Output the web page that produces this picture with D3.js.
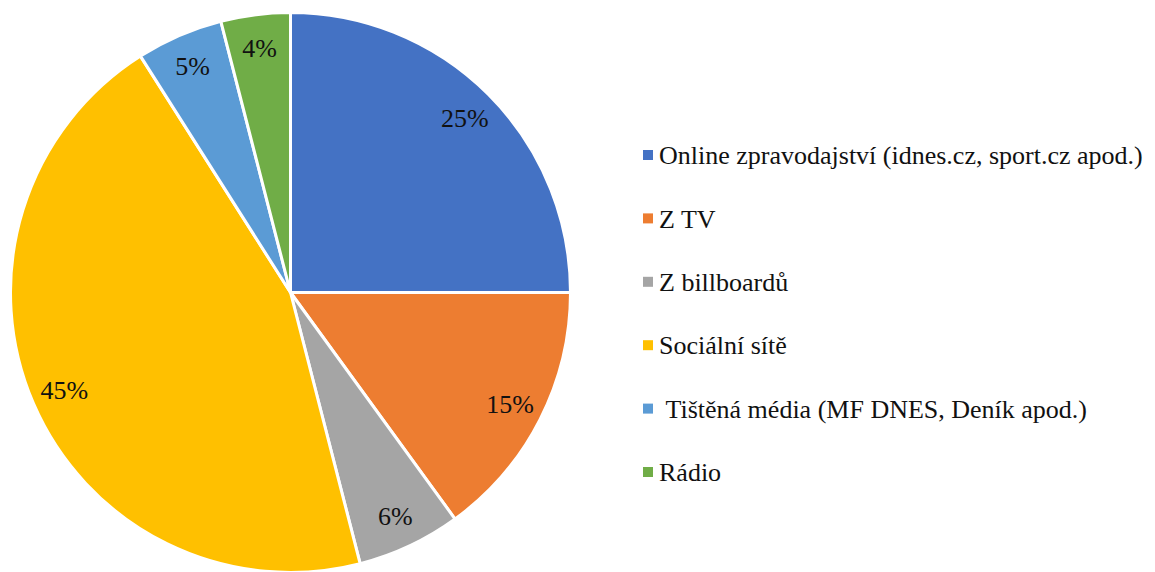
<!DOCTYPE html>
<html>
<head>
<meta charset="utf-8">
<script src="https://cdn.jsdelivr.net/npm/d3@7"></script>
<style>
  body { margin: 0; background: #fff; }
</style>
</head>
<body>
<script>

var width = 1155, height = 572
var font = "Liberation Serif"

/******** Data *********/

var categories = [
  "Online zpravodajství (idnes.cz, sport.cz apod.)",
  "Z TV",
  "Z billboardů",
  "Sociální sítě",
  "\u00a0Tištěná média (MF DNES, Deník apod.)",
  "Rádio"
]
var values = [25, 15, 6, 45, 5, 4]
var labels = ["25%", "15%", "6%", "45%", "5%", "4%"]
var colors = ["#4472C4", "#ED7D31", "#A5A5A5", "#FFC000", "#5B9BD5", "#70AD47"]

/******** Setup *********/

var cx = 290.5, cy = 292.5, radius = 280

var svg = d3.select("body")
  .append("svg")
    .attr("width", width)
    .attr("height", height)

var pie = d3.pie()
  .sort(null)
  .value(function(d){ return d })

var arc = d3.arc()
  .innerRadius(0)
  .outerRadius(radius)

var label_arc = d3.arc()
  .innerRadius(radius * 0.88)
  .outerRadius(radius * 0.88)

var arcs = pie(values)

var g = svg.append("g")
  .attr("transform", "translate(" + cx + "," + cy + ")")

g.selectAll("path.slice")
  .data(arcs)
  .enter()
  .append("path")
    .attr("class", "slice")
    .attr("d", arc)
    .attr("fill", function(d, i){ return colors[i] })
    .attr("stroke", "#fff")
    .attr("stroke-width", 3)
    .attr("stroke-linejoin", "round")

g.selectAll("text.pct")
  .data(arcs)
  .enter()
  .append("text")
    .attr("class", "pct")
    .attr("transform", function(d){
      var c = label_arc.centroid(d)
      return "translate(" + c[0] + "," + c[1] + ")"
    })
    .attr("text-anchor", "middle")
    .attr("dy", "0.35em")
    .attr("font-family", font)
    .attr("font-size", "26px")
    .attr("fill", "#111")
    .text(function(d, i){ return labels[i] })

/******** Legend *********/

var legend_y = d3.scalePoint()
  .domain(categories)
  .range([155, 472])

var legend = svg.selectAll("g.legend")
  .data(categories)
  .enter()
  .append("g")
    .attr("class", "legend")
    .attr("transform", function(d){ return "translate(643," + legend_y(d) + ")" })

legend.append("rect")
  .attr("x", 0)
  .attr("y", -5)
  .attr("width", 10)
  .attr("height", 10)
  .attr("fill", function(d, i){ return colors[i] })

legend.append("text")
  .attr("x", 16)
  .attr("dy", "0.35em")
  .attr("font-family", font)
  .attr("font-size", "26px")
  .attr("fill", "#111")
  .text(function(d){ return d })

</script>
</body>
</html>
